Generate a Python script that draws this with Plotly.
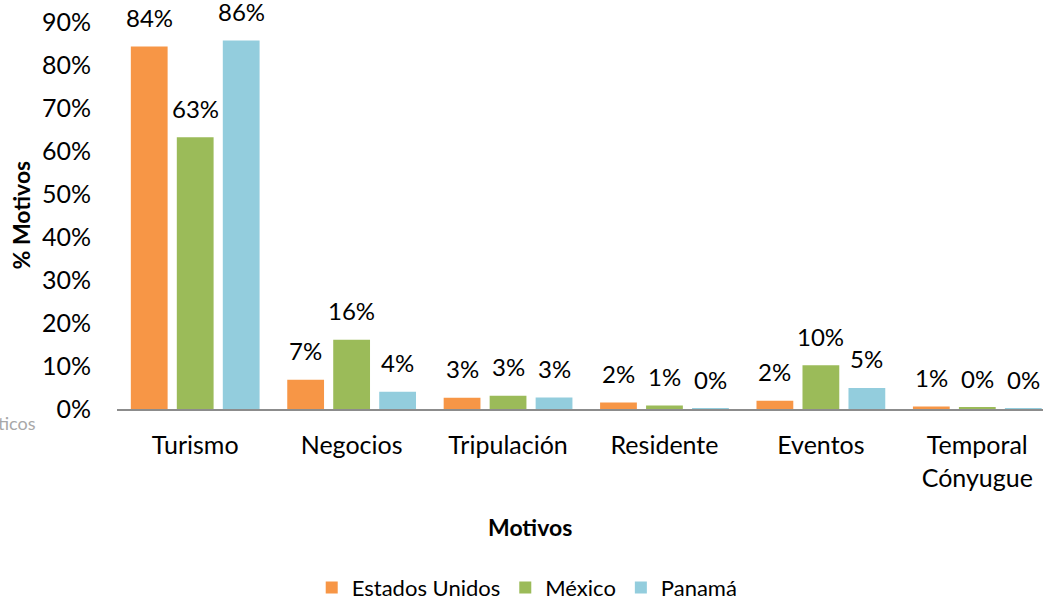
import plotly.graph_objects as go

categories = ["Turismo", "Negocios", "Tripulación", "Residente", "Eventos", "Temporal<br>Cónyugue"]
series_names = ["Estados Unidos", "México", "Panamá"]
estados_unidos = [0.843, 0.068, 0.026, 0.015, 0.019, 0.006]
mexico = [0.632, 0.161, 0.031, 0.008, 0.102, 0.003]
panama = [0.857, 0.040, 0.027, 0.001, 0.049, 0.001]
colors = ["#F79646", "#9BBB59", "#93CDDD"]
y_ticks = [0, 0.1, 0.2, 0.3, 0.4, 0.5, 0.6, 0.7, 0.8, 0.9]

FONT = "Lato"
all_series = [estados_unidos, mexico, panama]

fig = go.Figure()
for name, vals, col in zip(series_names, all_series, colors):
    fig.add_trace(go.Bar(x=categories, y=vals, name=name, marker=dict(color=col, line=dict(width=0))))

annotations = []
for j, vals in enumerate(all_series):
    for cat, v in zip(categories, vals):
        annotations.append(dict(
            x=cat, y=v, xref="x", yref="y", text=f"{round(v*100):.0f}%",
            showarrow=False, xshift=(j - 1) * 46, yshift=29, yanchor="middle",
            font=dict(family=FONT, size=24, color="#000000")))

# axis titles
annotations.append(dict(x=0.446, y=-0.305, xref="paper", yref="paper", text="<b>Motivos</b>",
                        showarrow=False, xanchor="center", yanchor="middle",
                        font=dict(family=FONT, size=23, color="#000000")))
annotations.append(dict(x=0, y=0.5, xref="paper", yref="paper", text="<b>% Motivos</b>",
                        showarrow=False, xanchor="center", yanchor="middle", textangle=-90,
                        xshift=-97, yshift=0,
                        font=dict(family=FONT, size=23, color="#000000")))
# cropped watermark fragment
annotations.append(dict(x=0, y=0, xref="paper", yref="paper", text="ticos", showarrow=False,
                        xanchor="left", yanchor="middle", xshift=-121, yshift=-14,
                        font=dict(family=FONT, size=18, color="#a8a8a8")))

fig.update_layout(
    width=1043, height=601,
    margin=dict(l=117, r=0, t=22, b=192),
    paper_bgcolor="white", plot_bgcolor="white",
    barmode="group", bargap=0.118, bargroupgap=0.2,
    font=dict(family=FONT, size=24, color="#000000"),
    annotations=annotations,
    legend=dict(orientation="h", x=0.443, xanchor="center", yref="container", y=0.022,
                yanchor="middle", font=dict(family=FONT, size=22), traceorder="normal",
                itemwidth=30),
    showlegend=True,
)
fig.update_xaxes(
    range=[-0.5, 5.42], showline=True, linecolor="#8c8c8c", linewidth=2,
    showgrid=False, ticks="", ticklabelstandoff=13, automargin=False,
    tickfont=dict(family=FONT, size=25),
)
fig.update_yaxes(
    range=[0, 0.9], tickvals=y_ticks, tickformat=".0%", showgrid=False, showline=False,
    zeroline=False, ticks="", ticklabelstandoff=25, automargin=False,
    tickfont=dict(family=FONT, size=25),
)

fig.write_html("out.html", config={"displayModeBar": False},
               post_script="document.body.style.margin='0';document.body.style.overflow='hidden';")
